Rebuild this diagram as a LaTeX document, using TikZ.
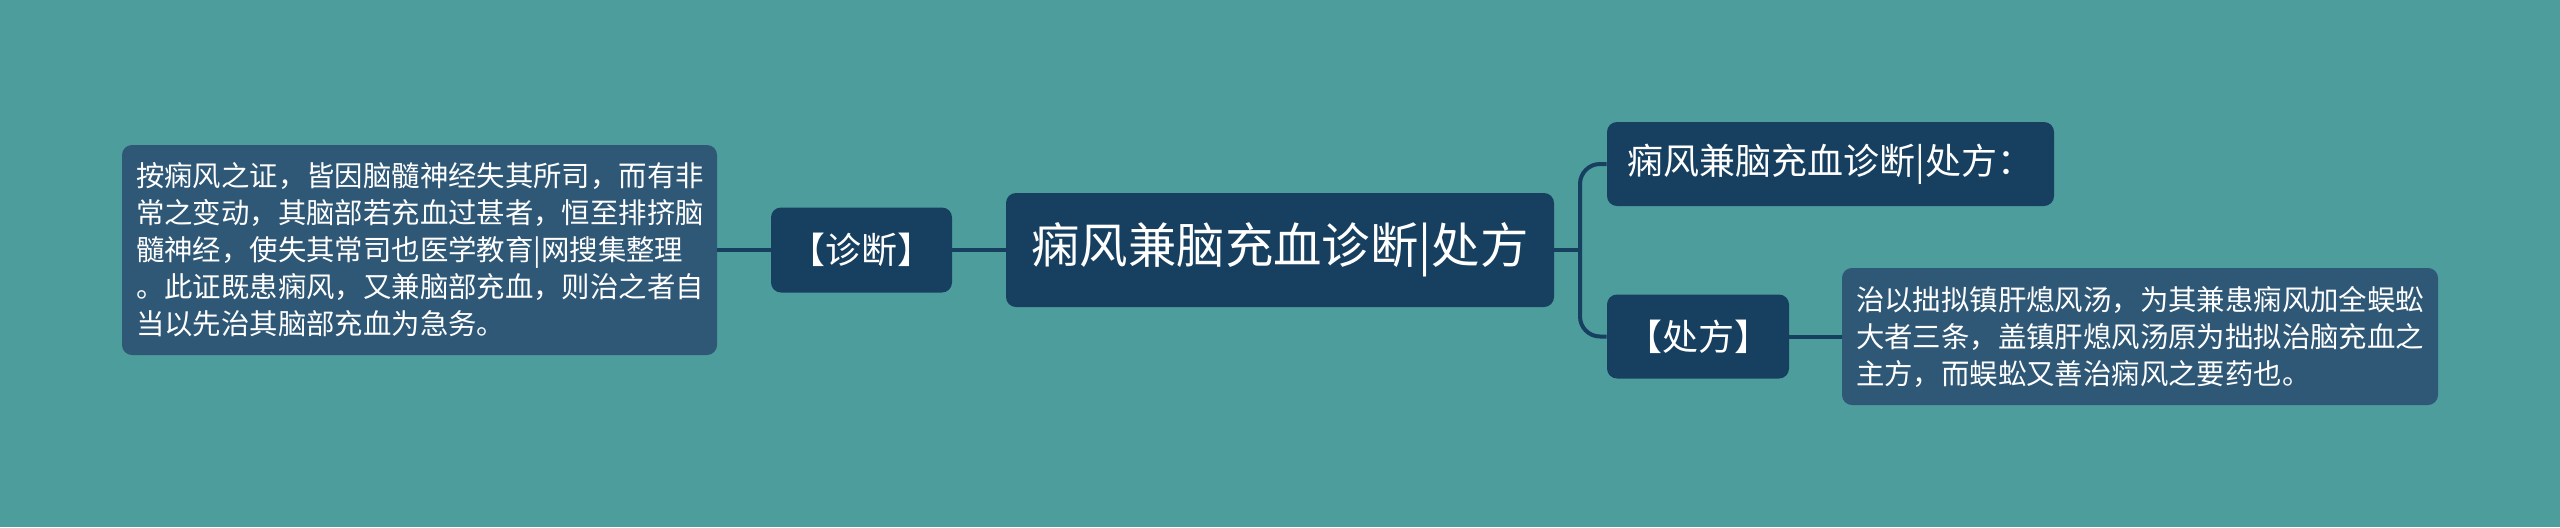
\documentclass[tikz,border=0pt]{standalone}
\usepackage{fontspec}
\setmainfont{Noto Sans CJK SC}
\definecolor{bgteal}{HTML}{4E9D9D}
\definecolor{darkbox}{HTML}{173F5F}
\definecolor{textbox}{HTML}{2F5877}
\definecolor{linecol}{HTML}{173F5F}
\tikzset{
  darknode/.style={fill=darkbox, rounded corners=5pt, text=white, inner sep=0pt, align=center},
  textnode/.style={fill=textbox, rounded corners=5pt, text=white, inner sep=0pt, align=left,
     font=\fontsize{14.2pt}{18.5pt}\selectfont},
  conn/.style={draw=linecol, line width=2pt},
}
\begin{document}
\begin{tikzpicture}[x=0.5pt,y=-0.5pt]
\fill[bgteal] (0,0) rectangle (2560,527);
\useasboundingbox (0,0) rectangle (2560,527);

\node[darknode, minimum width=274pt, minimum height=57pt, font=\fontsize{24.2pt}{28pt}\selectfont] (C) at (1280,250) {痫风兼脑充血诊断|处方};
\node[darknode, minimum width=90.5pt, minimum height=42.5pt, font=\fontsize{18pt}{22pt}\selectfont] (D) at (861.5,250) {【诊断】};
\node[textnode, minimum width=297.5pt, minimum height=105pt, text width=283.5pt] (L) at (419.5,250) {按痫风之证，皆因脑髓神经失其所司，而有非\\常之变动，其脑部若充血过甚者，恒至排挤脑\\髓神经，使失其常司也医学教育|网搜集整理\\。此证既患痫风，又兼脑部充血，则治之者自\\当以先治其脑部充血为急务。};
\node[darknode, minimum width=223.5pt, minimum height=42pt, font=\fontsize{18pt}{22pt}\selectfont] (T) at (1830.5,164) {痫风兼脑充血诊断|处方：};
\node[darknode, minimum width=91pt, minimum height=42pt, font=\fontsize{18pt}{22pt}\selectfont] (P) at (1698,336.5) {【处方】};
\node[textnode, minimum width=298pt, minimum height=68.5pt, text width=284pt] (R) at (2140,336.5) {治以拙拟镇肝熄风汤，为其兼患痫风加全蜈蚣\\大者三条，盖镇肝熄风汤原为拙拟治脑充血之\\主方，而蜈蚣又善治痫风之要药也。};

\coordinate (J) at (1580,250);
\draw[conn] (C.west) -- (D.east);
\draw[conn] (D.west) -- (L.east);
\draw[conn] (C.east) -- (J);
\draw[conn, rounded corners=10pt] (J) |- (T.west);
\draw[conn, rounded corners=10pt] (J) |- (P.west);
\draw[conn] (P.east) -- (R.west);
\end{tikzpicture}
\end{document}
